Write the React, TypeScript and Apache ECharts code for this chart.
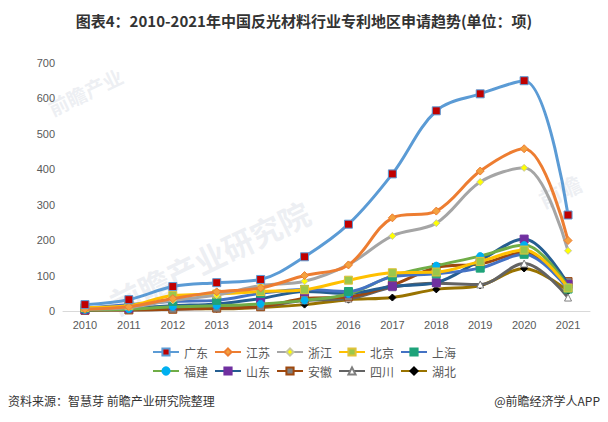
import React, { useEffect, useRef } from "react";
import * as echarts from "echarts";

const years = ["2010","2011","2012","2013","2014","2015","2016","2017","2018","2019","2020","2021"];
const names = ["广东","江苏","浙江","北京","上海","福建","山东","安徽","四川","湖北"];
const guangdong = [18, 32, 69, 80, 89, 153, 245, 387, 565, 613, 650, 271];
const jiangsu = [5, 12, 35, 54, 65, 100, 130, 263, 282, 395, 458, 199];
const zhejiang = [5, 10, 30, 45, 72, 84, 131, 212, 248, 364, 404, 170];
const beijing = [10, 15, 44, 48, 55, 60, 87, 108, 110, 140, 172, 65];
const shanghai = [8, 18, 27, 30, 50, 61, 55, 97, 105, 121, 160, 62];
const fujian = [3, 5, 12, 15, 20, 30, 48, 99, 128, 155, 186, 68];
const shandong = [3, 8, 15, 20, 35, 55, 50, 70, 80, 143, 203, 75];
const anhui = [2, 3, 5, 8, 12, 35, 40, 73, 123, 133, 165, 83];
const sichuan = [2, 3, 5, 8, 12, 30, 35, 67, 78, 75, 134, 38];
const hubei = [5, 6, 8, 6, 10, 18, 32, 38, 61, 72, 120, 56];
const yTicks = [0, 100, 200, 300, 400, 500, 600, 700];

const seriesData = [guangdong, jiangsu, zhejiang, beijing, shanghai, fujian, shandong, anhui, sichuan, hubei];
const styles = [
  { line: "#5B9BD5", symbol: "rect", size: 8, fill: "#C00000", border: "#5B9BD5" },
  { line: "#ED7D31", symbol: "diamond", size: 8, fill: "#F4A13F", border: "#ED7D31" },
  { line: "#A5A5A5", symbol: "diamond", size: 7, fill: "#FFFF00", border: "#C8C8A0" },
  { line: "#FFC000", symbol: "rect", size: 8, fill: "#9BC74B", border: "#E0C23A" },
  { line: "#4472C4", symbol: "rect", size: 8, fill: "#1FA37A", border: "#1FA37A" },
  { line: "#70AD47", symbol: "circle", size: 7, fill: "#00B0F0", border: "#00B0F0" },
  { line: "#255E91", symbol: "rect", size: 8, fill: "#7030A0", border: "#7030A0" },
  { line: "#9E480E", symbol: "rect", size: 8, fill: "#808080", border: "#9E480E" },
  { line: "#636363", symbol: "triangle", size: 7, fill: "#FFFFFF", border: "#7F7F7F" },
  { line: "#997300", symbol: "diamond", size: 7, fill: "#000000", border: "#000000" },
];

export default function App() {
  const ref = useRef<HTMLDivElement>(null);
  useEffect(() => {
    if (!ref.current) return;
    const chart = echarts.init(ref.current, null, { renderer: "svg" });
    const wm = (text: string, x: number, y: number, size: number) => ({
      type: "text",
      x,
      y,
      rotation: Math.PI / 7,
      z: -10,
      style: { text, fill: "rgba(215,220,228,0.45)", font: `bold ${size}px "Noto Sans CJK SC"` },
    });
    chart.setOption({
      animation: false,
      backgroundColor: "#ffffff",
      title: {
        text: "图表4：2010-2021年中国反光材料行业专利地区申请趋势(单位：项)",
        left: "center",
        top: 8,
        textStyle: { fontSize: 15, fontWeight: "bold", color: "#333333", fontFamily: "Noto Sans CJK SC" },
      },
      graphic: [
        wm("前瞻产业", 45, 100, 20),
        wm("前瞻产业研究院", 105, 290, 31),
        wm("前瞻", 535, 190, 22),
        {
          type: "text",
          left: 8,
          top: 394,
          style: { text: "资料来源：智慧芽 前瞻产业研究院整理", fill: "#333333", font: '12px "Noto Sans CJK SC"' },
        },
        {
          type: "text",
          right: 8,
          top: 394,
          style: { text: "@前瞻经济学人APP", fill: "#333333", font: '12px "Noto Sans CJK SC"' },
        },
      ],
      legend: [
        {
          data: names.slice(0, 5),
          top: 341,
          left: "center",
          itemWidth: 26,
          itemHeight: 9,
          itemGap: 6,
          textStyle: { fontSize: 12, color: "#595959", fontFamily: "Noto Sans CJK SC" },
        },
        {
          data: names.slice(5),
          top: 360,
          left: "center",
          itemWidth: 26,
          itemHeight: 9,
          itemGap: 6,
          textStyle: { fontSize: 12, color: "#595959", fontFamily: "Noto Sans CJK SC" },
        },
      ],
      grid: { left: 63, right: 18, top: 63, bottom: 111, containLabel: false },
      xAxis: {
        type: "category",
        data: years,
        boundaryGap: true,
        axisLine: { lineStyle: { color: "#D9D9D9", width: 1 } },
        axisTick: { show: false },
        axisLabel: { color: "#595959", fontSize: 11, margin: 8, fontFamily: "Liberation Sans" },
      },
      yAxis: {
        type: "value",
        min: yTicks[0],
        max: yTicks[yTicks.length - 1],
        interval: 100,
        axisLine: { show: false },
        axisTick: { show: false },
        splitLine: { show: false },
        axisLabel: { color: "#595959", fontSize: 11, margin: 8, fontFamily: "Liberation Sans" },
      },
      series: names.map((n, i) => ({
        name: n,
        type: "line",
        data: seriesData[i],
        smooth: 0.35,
        symbol: styles[i].symbol,
        symbolSize: styles[i].size,
        showSymbol: true,
        z: 20 - i,
        lineStyle: { color: styles[i].line, width: 3 },
        itemStyle: { color: styles[i].fill, borderColor: styles[i].border, borderWidth: 1 },
        emphasis: { disabled: true },
      })),
    });
    return () => chart.dispose();
  }, []);
  return <div ref={ref} style={{ width: 608, height: 422, position: "absolute", left: 0, top: 0 }} />;
}
